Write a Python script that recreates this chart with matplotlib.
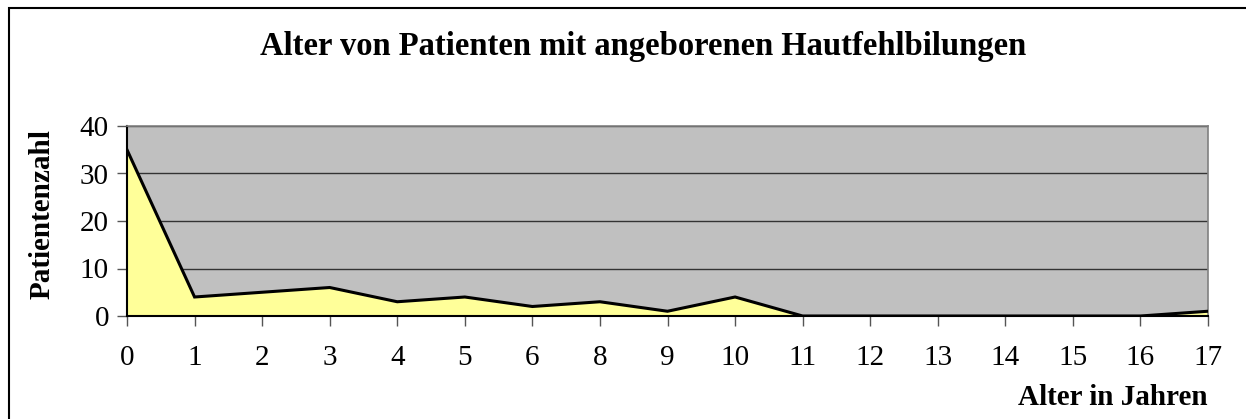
import matplotlib.pyplot as plt
from matplotlib.patches import Rectangle
import numpy as np

ages = ["0", "1", "2", "3", "4", "5", "6", "8", "9", "10", "11", "12", "13", "14", "15", "16", "17"]
patients = [35, 4, 5, 6, 3, 4, 2, 3, 1, 4, 0, 0, 0, 0, 0, 0, 1]

plt.rcParams['font.family'] = ['Liberation Serif', 'DejaVu Serif']

fig = plt.figure(figsize=(12.46, 4.19), dpi=100)
ax = fig.add_axes([127/1246, 1-316/419, (1208-127)/1246, (316-126)/419])

x = np.arange(len(ages))
ax.set_facecolor("#C0C0C0")
ax.fill_between(x, patients, 0, color="#FFFF99", zorder=2)
ax.plot(x, patients, color="black", lw=2.2, zorder=3, solid_joinstyle="miter")

ax.set_xlim(0, len(ages) - 1)
ax.set_ylim(0, 40)
ax.set_yticks([0, 10, 20, 30, 40])
ax.set_xticks(x)
ax.set_xticklabels(ages)
ax.yaxis.grid(True, color="#333333", lw=1)
ax.set_axisbelow(True)

ax.tick_params(axis="both", direction="out", length=7, width=1, colors="#555555", labelcolor="black", labelsize=21)
ax.tick_params(axis="x", pad=14)
ax.tick_params(axis="y", pad=6)

for side in ["top", "right"]:
    ax.spines[side].set_color("#808080")
    ax.spines[side].set_linewidth(1.2)
for side in ["left", "bottom"]:
    ax.spines[side].set_color("black")
    ax.spines[side].set_linewidth(1.5)

ax.set_ylabel("Patientenzahl", fontsize=21, fontweight="bold")
ax.yaxis.set_label_coords(56/1246, 0.49, transform=fig.transFigure)
fig.text(1208/1246, 1-397/419, "Alter in Jahren", fontsize=21, fontweight="bold", ha="right", va="center")
fig.text(643/1246, 1-47/419, "Alter von Patienten mit angeborenen Hautfehlbilungen",
         fontsize=23.5, fontweight="bold", ha="center", va="center")

fig.patches.append(Rectangle((9/1246, -0.05), 1.1, 1-8/419 + 0.05, transform=fig.transFigure,
                             fill=False, edgecolor="black", lw=1.5))

fig.savefig("out.png", dpi=100)
